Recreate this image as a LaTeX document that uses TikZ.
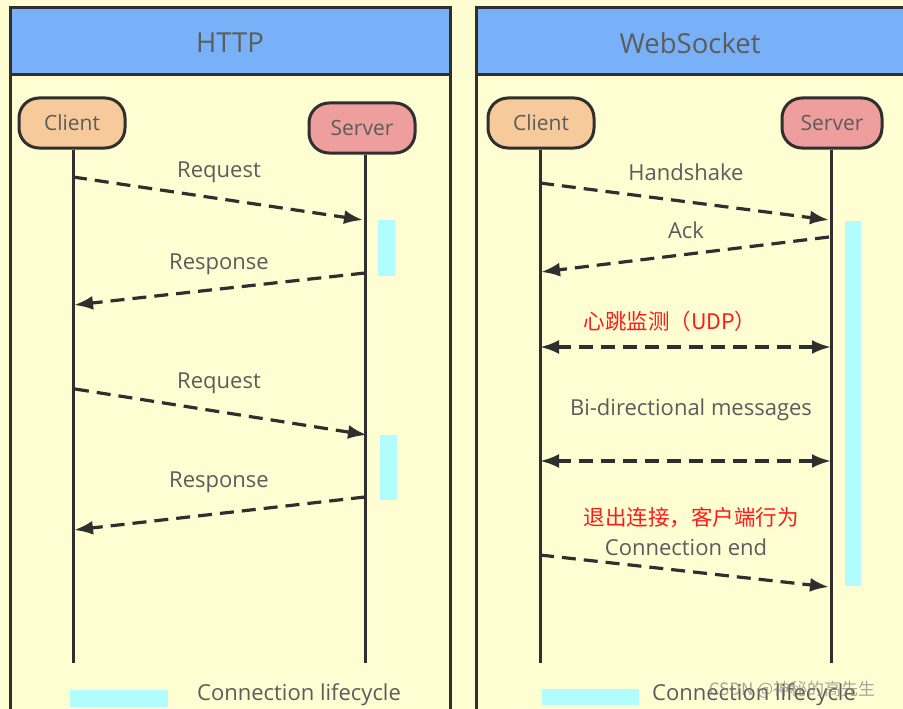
\documentclass[tikz,border=0pt]{standalone}
\usepackage{fontspec}
\setmainfont{Open Sans}
\newfontfamily\cjk{Noto Sans CJK SC}
\usetikzlibrary{arrows.meta}

\definecolor{bgyellow}{HTML}{FFFED3}
\definecolor{headblue}{HTML}{79B1F8}
\definecolor{lifecyan}{HTML}{B0FCFF}
\definecolor{clientfill}{HTML}{F6CA9B}
\definecolor{serverfill}{HTML}{EE9E9C}
\definecolor{inkdark}{HTML}{2F2F2F}
\definecolor{labelgray}{HTML}{5C5C5C}
\definecolor{notered}{HTML}{FF1A1A}

\begin{document}
\begin{tikzpicture}[x=1pt,y=-1pt]
        \tikzset{
            panel/.style={draw=inkdark, line width=3pt},
            actor/.style={draw=inkdark, line width=3pt, rounded corners=20pt,
                minimum width=106pt, minimum height=50pt, text=labelgray,
                font=\fontsize{21}{25}\selectfont},
            life/.style={draw=inkdark, line width=3pt},
            msg/.style={draw=inkdark, line width=3.2pt, dash pattern=on 14pt off 8pt,
                -{Latex[length=19pt,width=14pt]}},
            dmsg/.style={msg, {Latex[length=19pt,width=14pt]}-{Latex[length=19pt,width=14pt]}},
            lbl/.style={text=labelgray, font=\fontsize{22}{26}\selectfont, inner sep=0pt},
            cnlbl/.style={text=notered, font=\cjk\fontsize{21.5}{25}\selectfont, inner sep=0pt},
            title/.style={text=labelgray, font=\fontsize{27.5}{32}\selectfont}}

        \useasboundingbox (0,0) rectangle (903,709);
        \clip (0,0) rectangle (903,709);
        \fill[bgyellow] (0,0) rectangle (903,709);

        % the two panels
        \draw[panel] (10,8) rectangle (450,740);
        \filldraw[panel, fill=headblue] (10,8) rectangle (450,75);
        \draw[panel] (476,8) rectangle (930,740);
        \filldraw[panel, fill=headblue] (476,8) rectangle (930,75);
        \node[title] (httptitle) at (230,43) {HTTP};
        \node[title] (wstitle) at (690,43) {WebSocket};

        % lifetime bars
        \fill[lifecyan] (378,220) rectangle (395,276);
        \fill[lifecyan] (380,435) rectangle (397,500);
        \fill[lifecyan] (845,221) rectangle (861,586);

        % HTTP side
        \node[actor, fill=clientfill] (hclient) at (72,123) {Client};
        \node[actor, fill=serverfill] (hserver) at (362,128) {Server};
        \coordinate (hcend) at (73,663);
        \coordinate (hsend) at (365,663);
        \draw[life] (hclient.south -| hcend) -- (hcend);
        \draw[life] (hserver.south -| hsend) -- (hsend);

        \coordinate (hreqa) at (73,177);   \coordinate (hreqb) at (363,220);
        \coordinate (hresa) at (365,273);  \coordinate (hresb) at (74,305);
        \coordinate (hreqc) at (75,389);   \coordinate (hreqd) at (367,435);
        \coordinate (hresc) at (365,497);  \coordinate (hresd) at (74,530);

        \draw[msg] (hreqa) -- (hreqb);
        \draw[msg] (hresa) -- (hresb);
        \draw[msg] (hreqc) -- (hreqd);
        \draw[msg] (hresc) -- (hresd);

        \node[lbl] (hreqlbl) at (219,172) {Request};
        \node[lbl] (hreslbl) at (219,264) {Response};
        \node[lbl] (hreqlblb) at (219,383) {Request};
        \node[lbl] (hreslblb) at (219,482) {Response};

        % WebSocket side
        \node[actor, fill=clientfill] (wclient) at (541,123) {Client};
        \node[actor, fill=serverfill, minimum width=100pt] (wserver) at (832,123) {Server};
        \coordinate (wcend) at (540,663);
        \coordinate (wsend) at (831,663);
        \draw[life] (wclient.south -| wcend) -- (wcend);
        \draw[life] (wserver.south -| wsend) -- (wsend);

        \coordinate (whsa) at (540,183);   \coordinate (whsb) at (829,220);
        \coordinate (wacka) at (829,237);  \coordinate (wackb) at (541,272);
        \coordinate (wbeata) at (540,347); \coordinate (wbeatb) at (831,347);
        \coordinate (wbia) at (540,461);   \coordinate (wbib) at (831,461);
        \coordinate (wenda) at (540,555);  \coordinate (wendb) at (829,587);

        \draw[msg] (whsa) -- (whsb);
        \draw[msg] (wacka) -- (wackb);
        \draw[dmsg] (wbeata) -- (wbeatb);
        \draw[dmsg] (wbia) -- (wbib);
        \draw[msg] (wenda) -- (wendb);

        \node[lbl] (whslbl) at (686,172) {Handshake};
        \node[lbl] (wacklbl) at (686,230) {Ack};
        \node[cnlbl] (wbeatlbl) at (670,321) {心跳监测（UDP）};
        \node[lbl] (wbilbl) at (691,410) {Bi-directional messages};
        \node[cnlbl] (wquitlbl) at (691,518) {退出连接，客户端行为};
        \node[lbl] (wendlbl) at (686,547) {Connection end};

        % legends
        \fill[lifecyan] (70,690) rectangle (168,707);
        \node[lbl, anchor=west] (hlegend) at (197,695) {Connection lifecycle};
        \fill[lifecyan] (542,689) rectangle (639,705);
        \node[lbl, anchor=west] (wlegend) at (652,695) {Connection lifecycle};
        \node[text=gray, opacity=0.7, font=\cjk\fontsize{17}{20}\selectfont, inner sep=0pt]
            (mark) at (792,690) {CSDN @神秘的高先生};
    \end{tikzpicture}
\end{document}
